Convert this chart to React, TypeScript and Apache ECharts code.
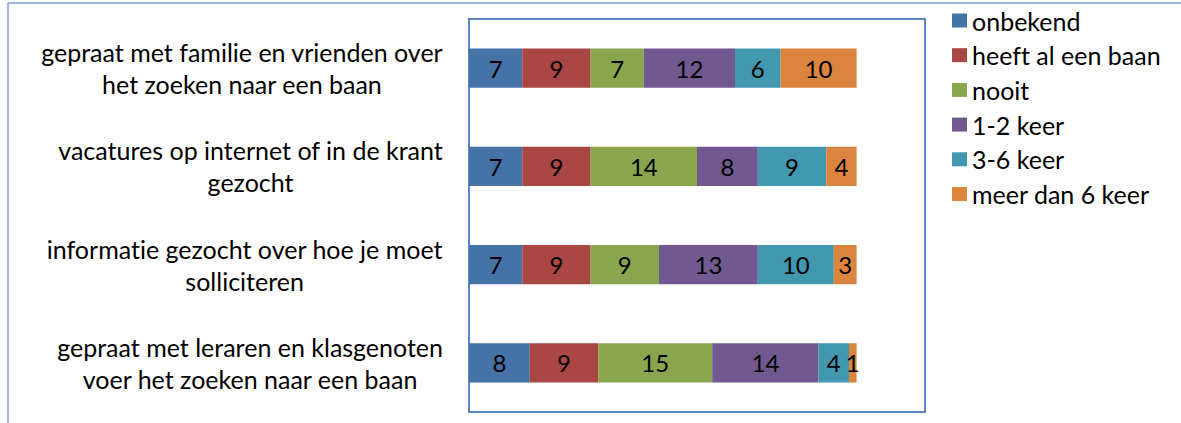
import React, { useEffect, useRef } from "react";
import * as echarts from "echarts";

const categories = [
  "gepraat met familie en vrienden over\nhet zoeken naar een baan",
  "vacatures op internet of in de krant\ngezocht",
  "informatie gezocht over hoe je moet\nsolliciteren",
  "gepraat met leraren en klasgenoten\nvoer het zoeken naar een baan",
];
const seriesNames = ["onbekend", "heeft al een baan", "nooit", "1-2 keer", "3-6 keer", "meer dan 6 keer"];
const onbekend = [7, 7, 7, 8];
const heeftBaan = [9, 9, 9, 9];
const nooit = [7, 14, 9, 15];
const keer12 = [12, 8, 13, 14];
const keer36 = [6, 9, 10, 4];
const meerDan6 = [10, 4, 3, 1];
const seriesData = [onbekend, heeftBaan, nooit, keer12, keer36, meerDan6];
const colors = ["#4572A7", "#AA4643", "#89A54E", "#71588F", "#4198AF", "#DB843D"];

const FONT = "Lato";

export default function App() {
  const ref = useRef<HTMLDivElement>(null);
  useEffect(() => {
    document.body.style.margin = "0";
    const chart = echarts.init(ref.current!, null, { renderer: "svg" });
    chart.setOption({
      animation: false,
      backgroundColor: "#ffffff",
      color: colors,
      textStyle: { fontFamily: FONT },
      graphic: [
        { type: "line", shape: { x1: 8, y1: 3, x2: 1181, y2: 3 }, style: { stroke: "#7D9FD3", lineWidth: 1.5 } },
        { type: "line", shape: { x1: 8, y1: 3, x2: 8, y2: 423 }, style: { stroke: "#7D9FD3", lineWidth: 1.5 } },
      ],
      grid: {
        left: 469,
        top: 19,
        right: 256,
        bottom: 11,
        show: true,
        borderColor: "#5A86C2",
        borderWidth: 2,
        backgroundColor: "transparent",
      },
      legend: {
        orient: "vertical",
        left: 947,
        top: 3,
        itemWidth: 15,
        itemHeight: 14,
        itemGap: 9.7,
        icon: "rect",
        data: seriesNames,
        textStyle: { fontFamily: FONT, fontSize: 25, lineHeight: 25, color: "#000" },
      },
      xAxis: {
        type: "value",
        min: 0,
        max: 60,
        show: false,
        splitLine: { show: false },
      },
      yAxis: {
        type: "category",
        inverse: true,
        data: categories,
        axisLine: { show: false },
        axisTick: { show: false },
        axisLabel: {
          margin: 26,
          align: "right",
          formatter: (v: string) => v.split("\n").map((l) => `{c|${l}}`).join("\n"),
          rich: {
            c: { align: "center", fontFamily: FONT, fontSize: 25, lineHeight: 32, color: "#000" },
          },
        },
      },
      series: seriesNames.map((name, i) => ({
        name,
        type: "bar",
        stack: "total",
        barWidth: "40%",
        data: seriesData[i],
        label: {
          show: true,
          position: "inside",
          color: "#000",
          fontFamily: FONT,
          fontSize: 24,
        },
      })),
    });
    return () => chart.dispose();
  }, []);
  return (
    <>
      <style>{`#root text, #root tspan { font-variant-ligatures: none !important; font-feature-settings: "liga" 0, "clig" 0 !important; }`}</style>
      <div ref={ref} style={{ position: "absolute", left: 0, top: 0, width: 1181, height: 423 }} />
    </>
  );
}
